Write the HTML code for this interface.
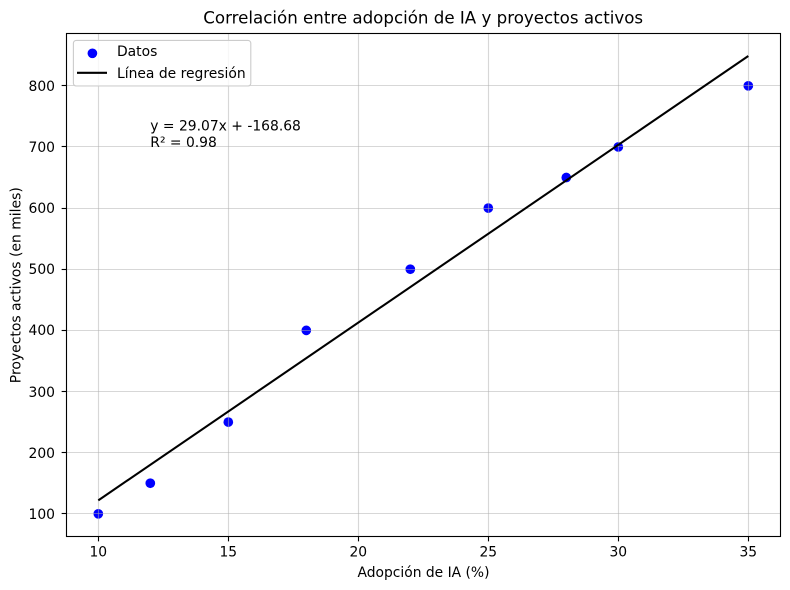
<!DOCTYPE html>
<html lang="es">
<head>
<meta charset="utf-8">
<title>Correlación entre adopción de IA y proyectos activos</title>
<style>
html,body{margin:0;padding:0;background:#fff;}
svg{display:block;}
text{font-family:"DejaVu Sans","Liberation Sans",sans-serif;fill:#000;}
</style>
</head>
<body>
<svg id="chart" width="790" height="590" viewBox="0 0 790 590" xmlns="http://www.w3.org/2000/svg">
  <rect x="0" y="0" width="790" height="590" fill="#fff"/>
  <g id="points"></g>
  <g id="grid"></g>
  <path id="regression" fill="none" stroke="#000" stroke-width="2.08"/>
  <rect x="66.5" y="33.5" width="714" height="503" fill="none" stroke="#000" stroke-width="1.11"/>
  <g id="ticks"></g>
  <text x="423.2" y="23.5" font-size="16.67" text-anchor="middle">Correlación entre adopción de IA y proyectos activos</text>
  <text x="423.5" y="577" font-size="13.89" text-anchor="middle" textLength="132" lengthAdjust="spacingAndGlyphs">Adopción de IA (%)</text>
  <text transform="translate(20.5 285.2) rotate(-90)" font-size="13.89" text-anchor="middle" textLength="196" lengthAdjust="spacingAndGlyphs">Proyectos activos (en miles)</text>
  <g id="annotation" font-size="13.89"></g>
  <g>
    <rect x="73.4" y="40.4" width="177.4" height="45.6" rx="2.8" fill="#fff" fill-opacity="0.8" stroke="#ccc" stroke-width="1.11"/>
    <circle cx="92.4" cy="53.3" r="4.85" fill="#0000ff"/>
    <text x="117" y="56" font-size="13.89">Datos</text>
    <line x1="77" x2="107" y1="72.8" y2="72.8" stroke="#000" stroke-width="2.08"/>
    <text x="117" y="78" font-size="13.89">Línea de regresión</text>
  </g>
</svg>
<script>
const adoptionPercent = [10, 12, 15, 18, 22, 25, 28, 30, 35];
const activeProjects = [100, 150, 250, 400, 500, 600, 650, 700, 800];
const regressionX = [10, 35];
const regressionY = [122.02, 848.77];
const xTicks = [10, 15, 20, 25, 30, 35];
const yTicks = [100, 200, 300, 400, 500, 600, 700, 800];
const annotationLines = ['y = 29.07x + -168.68', 'R² = 0.98'];
const annotationAnchor = [12, 700];

const NS = 'http://www.w3.org/2000/svg';
const plot = { left: 66.5, right: 780.5, top: 33.5, bottom: 536.5 };
function xScale(v) { return 98.3 + (v - 10) * 26; }
function yScale(v) { return 513.8 - (v - 100) * 0.6114; }
function snap(p) { return Math.floor(p) + 0.5; }
function make(tag, attrs, parent) {
  const el = document.createElementNS(NS, tag);
  for (const k in attrs) el.setAttribute(k, attrs[k]);
  parent.appendChild(el);
  return el;
}

const pointsG = document.getElementById('points');
adoptionPercent.forEach(function (x, i) {
  const c = make('circle', { cx: xScale(x), cy: yScale(activeProjects[i]), r: 4.85, fill: '#0000ff' }, pointsG);
  
  
});

const gridG = document.getElementById('grid');
const ticksG = document.getElementById('ticks');
xTicks.forEach(function (t) {
  const px = snap(xScale(t));
  const g = make('line', { x1: px, x2: px, y1: plot.top, y2: plot.bottom, stroke: '#b0b0b0', 'stroke-opacity': 0.5, 'stroke-width': 1.11 }, gridG);
  
  
  const m = make('line', { x1: px, x2: px, y1: plot.bottom, y2: plot.bottom + 4.86, stroke: '#000', 'stroke-width': 1.11 }, ticksG);
  
  
  const l = make('text', { x: xScale(t), y: 556.5, 'font-size': 13.89, 'text-anchor': 'middle' }, ticksG);
  
  
  l.textContent = t;
});
yTicks.forEach(function (t) {
  const py = snap(yScale(t));
  const g = make('line', { x1: plot.left, x2: plot.right, y1: py, y2: py, stroke: '#b0b0b0', 'stroke-opacity': 0.5, 'stroke-width': 1.11 }, gridG);
  
  
  const m = make('line', { x1: plot.left - 4.86, x2: plot.left, y1: py, y2: py, stroke: '#000', 'stroke-width': 1.11 }, ticksG);
  
  
  const l = make('text', { x: 55, y: Math.round(yScale(t)) + 5, 'font-size': 13.89, 'text-anchor': 'end' }, ticksG);
  
  
  l.textContent = t;
});

document.getElementById('regression').setAttribute('d', regressionX.map(function (x, i) {
  return (i ? 'L' : 'M') + xScale(x) + ' ' + yScale(regressionY[i]);
}).join(' '));

const annotationG = document.getElementById('annotation');
annotationLines.forEach(function (line, i) {
  const t = make('text', { x: xScale(annotationAnchor[0]), y: yScale(annotationAnchor[1]) - 16.6 + i * 16.6 }, annotationG);
  
  
  t.textContent = line;
});
</script>
</body>
</html>
